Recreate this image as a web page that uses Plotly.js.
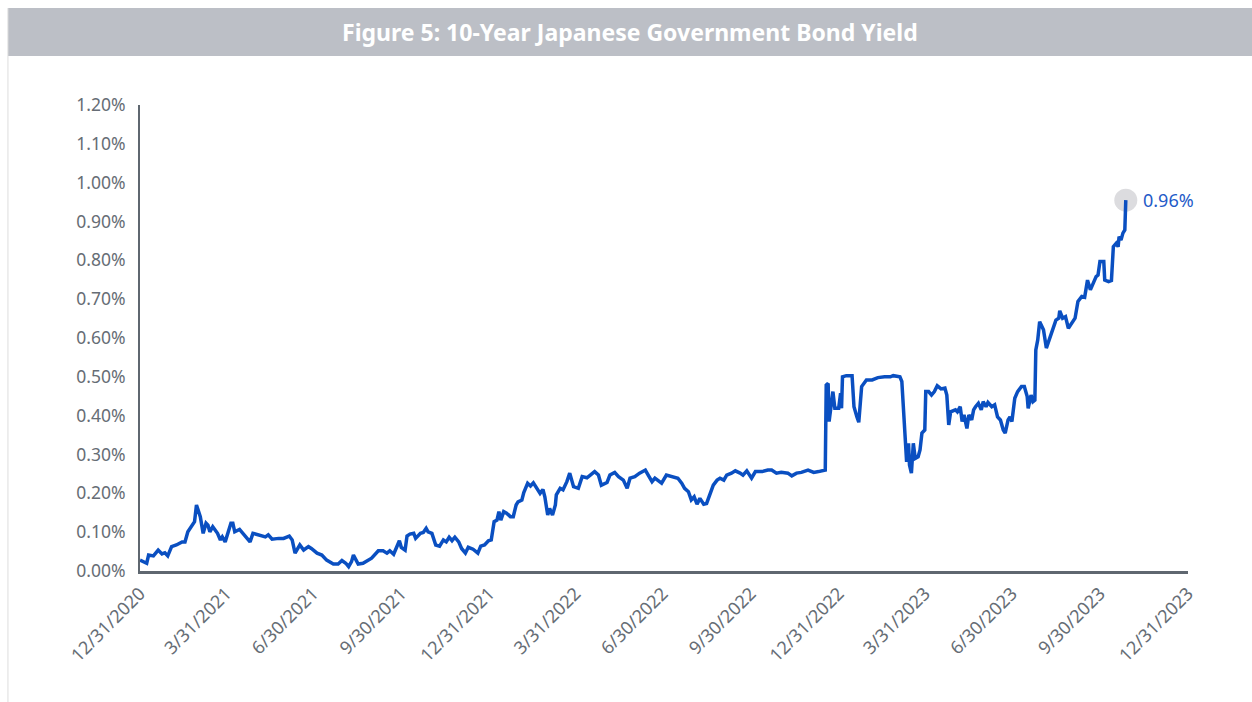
<!DOCTYPE html>
<html>
<head>
<meta charset="utf-8">
<script src="https://cdn.plot.ly/plotly-3.0.1.min.js"></script>
<style>
html,body{margin:0;padding:0;background:#fff;}
#chart{width:1252px;height:702px;}
</style>
</head>
<body>
<div id="chart"></div>
<script>
// ---- Data (10-Year JGB yield, %) ----
var dates2021a = ['2020-12-31','2021-01-07','2021-01-09','2021-01-14','2021-01-19','2021-01-23','2021-01-26','2021-01-29','2021-02-02','2021-02-07','2021-02-13','2021-02-16','2021-02-19','2021-02-23','2021-02-26','2021-02-28','2021-03-02','2021-03-04','2021-03-07','2021-03-10','2021-03-12','2021-03-14','2021-03-17','2021-03-19','2021-03-22','2021-03-25','2021-03-27','2021-03-30','2021-04-02','2021-04-05','2021-04-07','2021-04-09','2021-04-14','2021-04-20','2021-04-25','2021-04-28','2021-05-05','2021-05-11','2021-05-14','2021-05-18','2021-05-25','2021-05-30','2021-06-05','2021-06-08','2021-06-11','2021-06-16','2021-06-20','2021-06-25','2021-06-28','2021-07-04','2021-07-09','2021-07-14','2021-07-21','2021-07-26','2021-07-30','2021-08-03','2021-08-06'];
var yields2021a = [0.028,0.020,0.041,0.039,0.054,0.044,0.047,0.039,0.063,0.067,0.075,0.075,0.101,0.114,0.127,0.170,0.157,0.140,0.097,0.123,0.118,0.101,0.114,0.106,0.097,0.080,0.088,0.075,0.097,0.123,0.123,0.101,0.107,0.088,0.075,0.097,0.093,0.088,0.093,0.082,0.084,0.084,0.090,0.080,0.046,0.067,0.054,0.063,0.058,0.046,0.041,0.028,0.018,0.018,0.027,0.020,0.011];

var dates2021b = ['2021-08-09','2021-08-11','2021-08-14','2021-08-16','2021-08-21','2021-08-27','2021-08-30','2021-09-06','2021-09-11','2021-09-15','2021-09-18','2021-09-22','2021-09-25','2021-09-28','2021-09-30','2021-10-04','2021-10-06','2021-10-09','2021-10-13','2021-10-15','2021-10-20','2021-10-23','2021-10-26','2021-10-28','2021-11-01','2021-11-05','2021-11-09','2021-11-13','2021-11-16','2021-11-19','2021-11-22','2021-11-25','2021-11-29','2021-12-02','2021-12-06','2021-12-09','2021-12-14','2021-12-19','2021-12-22','2021-12-26','2021-12-30','2022-01-02','2022-01-05','2022-01-08','2022-01-10','2022-01-12','2022-01-15','2022-01-18','2022-01-22','2022-01-25','2022-01-28','2022-01-30','2022-02-03','2022-02-05','2022-02-09','2022-02-12','2022-02-15','2022-02-18','2022-02-22','2022-02-25','2022-02-27','2022-03-02','2022-03-04','2022-03-07'];
var yields2021b = [0.024,0.041,0.028,0.018,0.020,0.030,0.033,0.052,0.052,0.046,0.052,0.043,0.061,0.078,0.061,0.054,0.090,0.095,0.097,0.084,0.097,0.099,0.110,0.101,0.097,0.067,0.064,0.080,0.075,0.087,0.078,0.087,0.075,0.058,0.046,0.061,0.056,0.046,0.064,0.067,0.078,0.080,0.127,0.131,0.153,0.131,0.153,0.149,0.140,0.140,0.170,0.178,0.183,0.202,0.226,0.219,0.227,0.217,0.200,0.210,0.191,0.144,0.161,0.144];

var dates2022 = ['2022-03-10','2022-03-11','2022-03-15','2022-03-18','2022-03-22','2022-03-25','2022-03-29','2022-04-03','2022-04-07','2022-04-12','2022-04-15','2022-04-20','2022-04-24','2022-04-27','2022-05-03','2022-05-06','2022-05-11','2022-05-15','2022-05-20','2022-05-24','2022-05-27','2022-06-01','2022-06-06','2022-06-12','2022-06-15','2022-06-19','2022-06-22','2022-06-26','2022-06-29','2022-07-04','2022-07-08','2022-07-11','2022-07-16','2022-07-20','2022-07-23','2022-07-27','2022-07-30','2022-08-02','2022-08-05','2022-08-08','2022-08-12','2022-08-15','2022-08-18','2022-08-22','2022-08-26','2022-08-29','2022-09-02','2022-09-05','2022-09-10','2022-09-14','2022-09-19','2022-09-22','2022-09-26','2022-10-01','2022-10-05','2022-10-12','2022-10-18'];
var yields2022 = [0.170,0.196,0.213,0.209,0.230,0.252,0.217,0.213,0.243,0.240,0.247,0.256,0.247,0.221,0.228,0.247,0.254,0.243,0.234,0.213,0.239,0.243,0.252,0.260,0.247,0.230,0.239,0.230,0.226,0.247,0.245,0.243,0.239,0.226,0.213,0.204,0.183,0.191,0.172,0.187,0.172,0.174,0.196,0.221,0.234,0.239,0.234,0.247,0.252,0.258,0.252,0.247,0.258,0.239,0.256,0.256,0.260];

var dates2023a = ['2022-10-22','2022-10-27','2022-11-01','2022-11-08','2022-11-12','2022-11-17','2022-11-22','2022-11-29','2022-12-05','2022-12-10','2022-12-15','2022-12-17','2022-12-18','2022-12-20','2022-12-21','2022-12-23','2022-12-25','2022-12-27','2022-12-31','2023-01-02','2023-01-03','2023-01-04','2023-01-08','2023-01-14','2023-01-16','2023-01-19','2023-01-21','2023-01-24','2023-01-26','2023-01-29','2023-02-04','2023-02-10','2023-02-17','2023-02-23','2023-02-26','2023-03-05','2023-03-07','2023-03-09','2023-03-10','2023-03-12','2023-03-14','2023-03-15','2023-03-17','2023-03-19','2023-03-21','2023-03-24','2023-03-26','2023-03-28','2023-03-31','2023-04-01','2023-04-04','2023-04-07','2023-04-10','2023-04-13','2023-04-17','2023-04-21','2023-04-23','2023-04-25','2023-04-27','2023-05-02','2023-05-04','2023-05-07','2023-05-09','2023-05-11','2023-05-14','2023-05-16','2023-05-19','2023-05-21','2023-05-23','2023-05-26'];
var yields2023a = [0.260,0.252,0.254,0.252,0.245,0.252,0.254,0.260,0.254,0.256,0.258,0.260,0.479,0.483,0.385,0.419,0.462,0.419,0.419,0.458,0.419,0.500,0.503,0.503,0.423,0.397,0.383,0.475,0.481,0.492,0.492,0.498,0.500,0.500,0.503,0.500,0.488,0.402,0.333,0.281,0.329,0.273,0.252,0.329,0.290,0.294,0.312,0.355,0.363,0.462,0.462,0.453,0.462,0.477,0.469,0.471,0.453,0.376,0.410,0.415,0.410,0.423,0.385,0.402,0.367,0.402,0.389,0.415,0.423,0.432];

var dates2023b = ['2023-05-29','2023-05-31','2023-06-03','2023-06-05','2023-06-09','2023-06-12','2023-06-15','2023-06-18','2023-06-21','2023-06-23','2023-06-26','2023-06-28','2023-06-30','2023-07-03','2023-07-06','2023-07-10','2023-07-13','2023-07-16','2023-07-17','2023-07-20','2023-07-22','2023-07-24','2023-07-25','2023-07-27','2023-07-29','2023-08-02','2023-08-05','2023-08-09','2023-08-12','2023-08-15','2023-08-18','2023-08-19','2023-08-22','2023-08-25','2023-08-28','2023-09-01','2023-09-04','2023-09-07','2023-09-11','2023-09-14','2023-09-17','2023-09-20','2023-09-22','2023-09-26','2023-09-28','2023-09-30','2023-10-04','2023-10-05','2023-10-09','2023-10-12','2023-10-14','2023-10-17','2023-10-19','2023-10-20','2023-10-22','2023-10-24','2023-10-26','2023-10-27'];
var yields2023b = [0.415,0.436,0.423,0.434,0.423,0.428,0.397,0.389,0.363,0.355,0.389,0.397,0.385,0.445,0.462,0.475,0.475,0.449,0.419,0.453,0.436,0.440,0.569,0.595,0.642,0.621,0.574,0.603,0.629,0.646,0.651,0.670,0.651,0.655,0.625,0.638,0.651,0.694,0.707,0.705,0.749,0.724,0.737,0.758,0.762,0.797,0.797,0.749,0.745,0.748,0.835,0.844,0.835,0.861,0.852,0.870,0.878,0.955];

var tickDates = ['2020-12-31','2021-03-31','2021-06-30','2021-09-30','2021-12-31','2022-03-31','2022-06-30','2022-09-30','2022-12-31','2023-03-31','2023-06-30','2023-09-30','2023-12-31'];
var tickLabels = ['12/31/2020','3/31/2021','6/30/2021','9/30/2021','12/31/2021','3/31/2022','6/30/2022','9/30/2022','12/31/2022','3/31/2023','6/30/2023','9/30/2023','12/31/2023'];
var yTicks = [0,0.1,0.2,0.3,0.4,0.5,0.6,0.7,0.8,0.9,1.0,1.1,1.2];
var yTickLabels = ['0.00%','0.10%','0.20%','0.30%','0.40%','0.50%','0.60%','0.70%','0.80%','0.90%','1.00%','1.10%','1.20%'];
var lastLabel = '0.96%';
var chartTitle = 'Figure 5: 10-Year Japanese Government Bond Yield';

// ---- Build ----
var allDates = dates2021a.concat(dates2021b, dates2022, dates2023a, dates2023b);
var allYields = yields2021a.concat(yields2021b, yields2022, yields2023a, yields2023b);
var lastDate = allDates[allDates.length - 1];
var lastYield = allYields[allYields.length - 1];

var FONT = 'Noto Sans, Open Sans, sans-serif';
var GRAY = '#5f6770';
var TICKGRAY = '#666d75';
var BLUE = '#0a4fc1';

var traces = [
  {
    x: [lastDate], y: [lastYield], type: 'scatter', mode: 'markers',
    marker: {size: 23, color: '#dcdcdf'}, hoverinfo: 'skip', showlegend: false
  },
  {
    x: allDates, y: allYields, type: 'scatter', mode: 'lines',
    line: {color: BLUE, width: 3.5, shape: 'linear'}, showlegend: false
  }
];

var layout = {
  width: 1252, height: 702,
  margin: {l: 140, r: 64, t: 105, b: 131, pad: 0},
  paper_bgcolor: '#ffffff', plot_bgcolor: '#ffffff',
  font: {family: FONT, color: GRAY, size: 18},
  showlegend: false,
  xaxis: {
    type: 'date',
    range: ['2020-12-31', '2023-12-31'],
    tickmode: 'array', tickvals: tickDates, ticktext: tickLabels,
    tickangle: -45,
    tickfont: {family: FONT, size: 18, color: TICKGRAY},
    showgrid: false, zeroline: false,
    showline: true, linecolor: GRAY, linewidth: 3,
    ticks: 'outside', ticklen: 2, tickcolor: 'rgba(0,0,0,0)'
  },
  yaxis: {
    range: [0, 1.2],
    tickmode: 'array', tickvals: yTicks, ticktext: yTickLabels,
    tickfont: {family: FONT, size: 17.5, color: TICKGRAY},
    showgrid: false, zeroline: false,
    showline: true, linecolor: GRAY, linewidth: 2,
    ticks: 'outside', ticklen: 9, tickcolor: 'rgba(0,0,0,0)'
  },
  shapes: [
    {type: 'rect', xref: 'paper', yref: 'paper', x0: -0.126, x1: 1.07, y0: 1.105, y1: 1.208,
     fillcolor: '#bcbfc6', line: {width: 0}, layer: 'below'},
    {type: 'line', xref: 'paper', yref: 'paper', x0: -0.126, x1: -0.126, y0: 1.208, y1: -0.285,
     line: {color: '#dddddd', width: 1}}
  ],
  annotations: [
    {xref: 'paper', yref: 'paper', x: 0.4676, y: 1.156, xanchor: 'center', yanchor: 'middle',
     text: '<b>' + chartTitle + '</b>', showarrow: false,
     font: {family: FONT, size: 23, color: '#ffffff'}},
    {x: lastDate, y: lastYield, xref: 'x', yref: 'y', text: lastLabel, showarrow: false,
     xanchor: 'left', yanchor: 'middle', xshift: 15,
     font: {family: FONT, size: 18, color: '#1f5bc8'}}
  ]
};

Plotly.newPlot('chart', traces, layout, {displayModeBar: false, staticPlot: true});
</script>
</body>
</html>
